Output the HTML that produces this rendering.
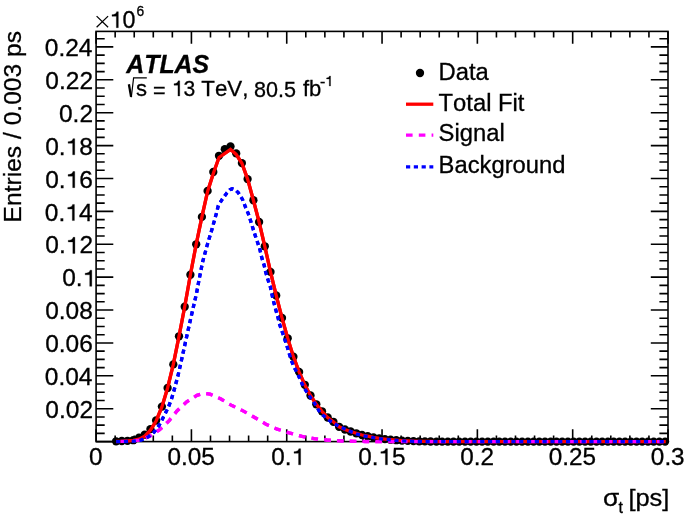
<!DOCTYPE html>
<html><head><meta charset="utf-8"><style>
html,body{margin:0;padding:0;background:#fff;width:685px;height:516px;overflow:hidden}
svg{display:block}
text{font-family:"Liberation Sans",sans-serif;fill:#000;font-kerning:none;stroke:#000;stroke-width:0.3px}
.g1{stroke:#000;stroke-width:0.3px;vector-effect:non-scaling-stroke}
svg{will-change:transform}
</style></head><body>
<svg width="685" height="516" viewBox="0 0 685 516">
<rect x="0" y="0" width="685" height="516" fill="#fff"/>
<path d="M96.10 441.60V429.30M96.10 31.40V43.70M115.16 441.60V435.40M115.16 31.40V37.60M134.23 441.60V435.40M134.23 31.40V37.60M153.29 441.60V435.40M153.29 31.40V37.60M172.35 441.60V435.40M172.35 31.40V37.60M191.42 441.60V429.30M191.42 31.40V43.70M210.48 441.60V435.40M210.48 31.40V37.60M229.54 441.60V435.40M229.54 31.40V37.60M248.61 441.60V435.40M248.61 31.40V37.60M267.67 441.60V435.40M267.67 31.40V37.60M286.73 441.60V429.30M286.73 31.40V43.70M305.80 441.60V435.40M305.80 31.40V37.60M324.86 441.60V435.40M324.86 31.40V37.60M343.92 441.60V435.40M343.92 31.40V37.60M362.99 441.60V435.40M362.99 31.40V37.60M382.05 441.60V429.30M382.05 31.40V43.70M401.11 441.60V435.40M401.11 31.40V37.60M420.18 441.60V435.40M420.18 31.40V37.60M439.24 441.60V435.40M439.24 31.40V37.60M458.30 441.60V435.40M458.30 31.40V37.60M477.37 441.60V429.30M477.37 31.40V43.70M496.43 441.60V435.40M496.43 31.40V37.60M515.49 441.60V435.40M515.49 31.40V37.60M534.56 441.60V435.40M534.56 31.40V37.60M553.62 441.60V435.40M553.62 31.40V37.60M572.68 441.60V429.30M572.68 31.40V43.70M591.75 441.60V435.40M591.75 31.40V37.60M610.81 441.60V435.40M610.81 31.40V37.60M629.87 441.60V435.40M629.87 31.40V37.60M648.94 441.60V435.40M648.94 31.40V37.60M668.00 441.60V429.30M668.00 31.40V43.70M96.10 441.60H113.30M668.00 441.60H650.80M96.10 433.38H104.70M668.00 433.38H659.40M96.10 425.16H104.70M668.00 425.16H659.40M96.10 416.93H104.70M668.00 416.93H659.40M96.10 408.71H113.30M668.00 408.71H650.80M96.10 400.49H104.70M668.00 400.49H659.40M96.10 392.27H104.70M668.00 392.27H659.40M96.10 384.04H104.70M668.00 384.04H659.40M96.10 375.82H113.30M668.00 375.82H650.80M96.10 367.60H104.70M668.00 367.60H659.40M96.10 359.38H104.70M668.00 359.38H659.40M96.10 351.15H104.70M668.00 351.15H659.40M96.10 342.93H113.30M668.00 342.93H650.80M96.10 334.71H104.70M668.00 334.71H659.40M96.10 326.49H104.70M668.00 326.49H659.40M96.10 318.26H104.70M668.00 318.26H659.40M96.10 310.04H113.30M668.00 310.04H650.80M96.10 301.82H104.70M668.00 301.82H659.40M96.10 293.60H104.70M668.00 293.60H659.40M96.10 285.37H104.70M668.00 285.37H659.40M96.10 277.15H113.30M668.00 277.15H650.80M96.10 268.93H104.70M668.00 268.93H659.40M96.10 260.71H104.70M668.00 260.71H659.40M96.10 252.48H104.70M668.00 252.48H659.40M96.10 244.26H113.30M668.00 244.26H650.80M96.10 236.04H104.70M668.00 236.04H659.40M96.10 227.81H104.70M668.00 227.81H659.40M96.10 219.59H104.70M668.00 219.59H659.40M96.10 211.37H113.30M668.00 211.37H650.80M96.10 203.15H104.70M668.00 203.15H659.40M96.10 194.93H104.70M668.00 194.93H659.40M96.10 186.70H104.70M668.00 186.70H659.40M96.10 178.48H113.30M668.00 178.48H650.80M96.10 170.26H104.70M668.00 170.26H659.40M96.10 162.04H104.70M668.00 162.04H659.40M96.10 153.81H104.70M668.00 153.81H659.40M96.10 145.59H113.30M668.00 145.59H650.80M96.10 137.37H104.70M668.00 137.37H659.40M96.10 129.15H104.70M668.00 129.15H659.40M96.10 120.92H104.70M668.00 120.92H659.40M96.10 112.70H113.30M668.00 112.70H650.80M96.10 104.48H104.70M668.00 104.48H659.40M96.10 96.25H104.70M668.00 96.25H659.40M96.10 88.03H104.70M668.00 88.03H659.40M96.10 79.81H113.30M668.00 79.81H650.80M96.10 71.59H104.70M668.00 71.59H659.40M96.10 63.37H104.70M668.00 63.37H659.40M96.10 55.14H104.70M668.00 55.14H659.40M96.10 46.92H113.30M668.00 46.92H650.80M96.10 38.70H104.70M668.00 38.70H659.40" stroke="#000" stroke-width="1.60" fill="none"/>
<rect x="96.10" y="31.40" width="571.90" height="410.20" fill="none" stroke="#000" stroke-width="1.60"/>
<polyline points="116.1,441.5 121.8,441.3 127.5,441.0 133.3,440.4 139.0,439.1 144.7,436.2 150.4,430.2 156.1,421.0 161.9,407.0 167.6,388.0 173.3,364.4 179.0,336.3 184.7,306.7 190.4,274.7 196.2,244.3 201.9,216.9 207.6,191.5 213.3,173.5 219.0,157.5 230.5,149.3 236.2,154.4 241.9,163.3 247.6,179.1 253.4,200.2 259.1,222.0 264.8,246.3 270.5,271.9 276.2,295.5 282.0,317.9 287.7,338.3 293.4,356.7 299.1,371.9 304.8,384.8 310.5,395.5 316.3,404.3 322.0,411.3 327.7,417.5 333.4,421.8 339.1,426.8 344.9,429.5 350.6,431.5 356.3,433.3 362.0,435.0 367.7,436.2 373.5,437.4 379.2,438.4 384.9,439.1 390.6,439.7 396.3,440.2 402.0,440.6 407.8,440.9 413.5,441.1 419.2,441.3 424.9,441.4 430.6,441.5 436.4,441.6 442.1,441.6 447.8,441.6 453.5,441.6 459.2,441.6 465.0,441.6 470.7,441.6 476.4,441.6 482.1,441.6 487.8,441.6 493.6,441.6 499.3,441.6 505.0,441.6 510.7,441.6 516.4,441.6 522.1,441.6 527.9,441.6 533.6,441.6 539.3,441.6 545.0,441.6 550.7,441.6 556.5,441.6 562.2,441.6 567.9,441.6 573.6,441.6 579.3,441.6 585.1,441.6 590.8,441.6 596.5,441.6 602.2,441.6 607.9,441.6 613.7,441.6 619.4,441.6 625.1,441.6 630.8,441.6 636.5,441.6 642.2,441.6 648.0,441.6 653.7,441.6 659.4,441.6 665.8,441.6" fill="none" stroke="#ff0000" stroke-width="3.3" stroke-linejoin="miter"/>
<polyline points="116.1,441.5 130.0,441.3 139.8,440.1 145.0,438.2 150.5,435.7 155.0,432.6 159.7,429.7 164.5,425.2 169.4,420.3 177.2,410.7 186.7,401.9 196.9,395.3 204.2,393.4 210.1,394.2 221.0,399.0 229.0,404.0 232.0,405.6 243.5,411.1 254.7,417.5 266.0,424.2 277.2,429.2 289.2,432.9 302.1,436.4 314.1,438.7 327.0,440.0 345.0,441.1 365.0,441.5 400.0,441.7 665.8,441.7" fill="none" stroke="#ff00ff" stroke-width="3.3" stroke-dasharray="6.6 6.2" stroke-dashoffset="-4.5"/>
<polyline points="116.1,441.6 125.3,441.6 133.4,441.2 140.8,440.1 148.6,436.7 153.9,432.3 158.7,426.0 162.1,419.7 165.5,413.0 168.5,406.8 171.4,399.3 173.6,392.0 177.9,376.0 182.6,355.1 187.2,334.2 191.9,313.3 196.5,293.5 199.1,279.5 202.6,262.0 207.2,245.1 211.9,229.5 216.5,213.0 218.3,205.6 222.3,199.2 227.0,192.8 230.0,189.6 232.2,188.7 235.0,189.6 238.4,192.8 242.4,199.2 245.3,206.7 248.3,213.7 250.6,220.7 252.9,228.3 255.2,235.4 257.6,242.6 259.9,249.5 261.6,257.1 264.0,264.7 265.7,272.2 268.0,279.8 270.3,286.7 271.9,294.1 273.6,301.6 275.4,308.6 277.7,316.2 279.4,323.7 281.8,330.7 284.3,338.0 286.7,345.2 289.0,352.8 291.3,360.3 294.2,367.3 297.7,373.7 300.6,380.7 304.1,387.7 308.3,394.5 313.7,402.0 316.6,406.8 320.5,413.1 326.8,418.4 332.6,422.8 338.9,426.2 346.2,429.6 353.0,432.5 356.3,433.9 362.0,435.5 367.7,436.6 373.5,437.7 379.2,438.6 384.9,439.3 390.6,439.9 396.3,440.4 402.1,440.8 407.8,441.1 413.5,441.3 419.2,441.5 424.9,441.6 440.0,441.7 665.8,441.7" fill="none" stroke="#0000ff" stroke-width="3.3" stroke-dasharray="4.2 3.6"/>
<g fill="#000"><circle cx="116.1" cy="441.3" r="4.15"/><circle cx="121.8" cy="441.0" r="4.15"/><circle cx="127.5" cy="440.8" r="4.15"/><circle cx="133.3" cy="440.2" r="4.15"/><circle cx="139.0" cy="437.6" r="4.15"/><circle cx="144.7" cy="434.7" r="4.15"/><circle cx="150.4" cy="429.1" r="4.15"/><circle cx="156.1" cy="420.5" r="4.15"/><circle cx="161.9" cy="406.6" r="4.15"/><circle cx="167.6" cy="388.0" r="4.15"/><circle cx="173.3" cy="364.4" r="4.15"/><circle cx="179.0" cy="336.3" r="4.15"/><circle cx="184.7" cy="306.7" r="4.15"/><circle cx="190.4" cy="274.7" r="4.15"/><circle cx="196.2" cy="244.3" r="4.15"/><circle cx="201.9" cy="216.9" r="4.15"/><circle cx="207.6" cy="190.9" r="4.15"/><circle cx="213.3" cy="172.0" r="4.15"/><circle cx="219.0" cy="155.8" r="4.15"/><circle cx="224.8" cy="149.2" r="4.15"/><circle cx="230.5" cy="146.5" r="4.15"/><circle cx="236.2" cy="153.4" r="4.15"/><circle cx="241.9" cy="163.1" r="4.15"/><circle cx="247.6" cy="179.1" r="4.15"/><circle cx="253.4" cy="200.2" r="4.15"/><circle cx="259.1" cy="222.0" r="4.15"/><circle cx="264.8" cy="246.3" r="4.15"/><circle cx="270.5" cy="271.9" r="4.15"/><circle cx="276.2" cy="295.5" r="4.15"/><circle cx="282.0" cy="317.9" r="4.15"/><circle cx="287.7" cy="338.3" r="4.15"/><circle cx="293.4" cy="356.7" r="4.15"/><circle cx="299.1" cy="371.9" r="4.15"/><circle cx="304.8" cy="384.8" r="4.15"/><circle cx="310.5" cy="395.5" r="4.15"/><circle cx="316.3" cy="404.3" r="4.15"/><circle cx="322.0" cy="411.3" r="4.15"/><circle cx="327.7" cy="417.5" r="4.15"/><circle cx="333.4" cy="421.8" r="4.15"/><circle cx="339.1" cy="426.8" r="4.15"/><circle cx="344.9" cy="429.5" r="4.15"/><circle cx="350.6" cy="431.5" r="4.15"/><circle cx="356.3" cy="433.3" r="4.15"/><circle cx="362.0" cy="435.0" r="4.15"/><circle cx="367.7" cy="436.2" r="4.15"/><circle cx="373.5" cy="437.4" r="4.15"/><circle cx="379.2" cy="438.4" r="4.15"/><circle cx="384.9" cy="439.1" r="4.15"/><circle cx="390.6" cy="439.7" r="4.15"/><circle cx="396.3" cy="440.2" r="4.15"/><circle cx="402.0" cy="440.6" r="4.15"/><circle cx="407.8" cy="440.9" r="4.15"/><circle cx="413.5" cy="441.1" r="4.15"/><circle cx="419.2" cy="441.3" r="4.15"/><circle cx="424.9" cy="441.4" r="4.15"/><circle cx="430.6" cy="441.5" r="4.15"/><circle cx="436.4" cy="441.6" r="4.15"/><circle cx="442.1" cy="441.6" r="4.15"/><circle cx="447.8" cy="441.6" r="4.15"/><circle cx="453.5" cy="441.6" r="4.15"/><circle cx="459.2" cy="441.6" r="4.15"/><circle cx="465.0" cy="441.6" r="4.15"/><circle cx="470.7" cy="441.6" r="4.15"/><circle cx="476.4" cy="441.6" r="4.15"/><circle cx="482.1" cy="441.6" r="4.15"/><circle cx="487.8" cy="441.6" r="4.15"/><circle cx="493.6" cy="441.6" r="4.15"/><circle cx="499.3" cy="441.6" r="4.15"/><circle cx="505.0" cy="441.6" r="4.15"/><circle cx="510.7" cy="441.6" r="4.15"/><circle cx="516.4" cy="441.6" r="4.15"/><circle cx="522.1" cy="441.6" r="4.15"/><circle cx="527.9" cy="441.6" r="4.15"/><circle cx="533.6" cy="441.6" r="4.15"/><circle cx="539.3" cy="441.6" r="4.15"/><circle cx="545.0" cy="441.6" r="4.15"/><circle cx="550.7" cy="441.6" r="4.15"/><circle cx="556.5" cy="441.6" r="4.15"/><circle cx="562.2" cy="441.6" r="4.15"/><circle cx="567.9" cy="441.6" r="4.15"/><circle cx="573.6" cy="441.6" r="4.15"/><circle cx="579.3" cy="441.6" r="4.15"/><circle cx="585.1" cy="441.6" r="4.15"/><circle cx="590.8" cy="441.6" r="4.15"/><circle cx="596.5" cy="441.6" r="4.15"/><circle cx="602.2" cy="441.6" r="4.15"/><circle cx="607.9" cy="441.6" r="4.15"/><circle cx="613.7" cy="441.6" r="4.15"/><circle cx="619.4" cy="441.6" r="4.15"/><circle cx="625.1" cy="441.6" r="4.15"/><circle cx="630.8" cy="441.6" r="4.15"/><circle cx="636.5" cy="441.6" r="4.15"/><circle cx="642.2" cy="441.6" r="4.15"/><circle cx="648.0" cy="441.6" r="4.15"/><circle cx="653.7" cy="441.6" r="4.15"/><circle cx="659.4" cy="441.6" r="4.15"/><circle cx="665.1" cy="441.6" r="4.15"/></g>
<polyline points="116.1,441.5 121.8,441.3 127.5,441.0 133.3,440.4 139.0,439.1 144.7,436.2 150.4,430.2 156.1,421.0 161.9,407.0 167.6,388.0 173.3,364.4 179.0,336.3 184.7,306.7 190.4,274.7 196.2,244.3 201.9,216.9 207.6,191.5 213.3,173.5 219.0,157.5 230.5,149.3 236.2,154.4 241.9,163.3 247.6,179.1 253.4,200.2 259.1,222.0 264.8,246.3 270.5,271.9 276.2,295.5 282.0,317.9 287.7,338.3 293.4,356.7 299.1,371.9 304.8,384.8 310.5,395.5 316.3,404.3 322.0,411.3 327.7,417.5 333.4,421.8 339.1,426.8 344.9,429.5 350.6,431.5 356.3,433.3 362.0,435.0 367.7,436.2 373.5,437.4 379.2,438.4 384.9,439.1 390.6,439.7 396.3,440.2 402.0,440.6 407.8,440.9 413.5,441.1 419.2,441.3 424.9,441.4 430.6,441.5 436.4,441.6 442.1,441.6 447.8,441.6 453.5,441.6 459.2,441.6 465.0,441.6 470.7,441.6 476.4,441.6 482.1,441.6 487.8,441.6 493.6,441.6 499.3,441.6 505.0,441.6 510.7,441.6 516.4,441.6 522.1,441.6 527.9,441.6 533.6,441.6 539.3,441.6 545.0,441.6 550.7,441.6 556.5,441.6 562.2,441.6 567.9,441.6 573.6,441.6 579.3,441.6 585.1,441.6 590.8,441.6 596.5,441.6 602.2,441.6 607.9,441.6 613.7,441.6 619.4,441.6 625.1,441.6 630.8,441.6 636.5,441.6 642.2,441.6 648.0,441.6 653.7,441.6 659.4,441.6 665.8,441.6" fill="none" stroke="#ff0000" stroke-width="3.3"/>
<polyline points="116.1,441.5 130.0,441.3 139.8,440.1 145.0,438.2 150.5,435.7 155.0,432.6 159.7,429.7 164.5,425.2 169.4,420.3 177.2,410.7 186.7,401.9 196.9,395.3 204.2,393.4 210.1,394.2 221.0,399.0 229.0,404.0 232.0,405.6 243.5,411.1 254.7,417.5 266.0,424.2 277.2,429.2 289.2,432.9 302.1,436.4 314.1,438.7 327.0,440.0 345.0,441.1 365.0,441.5 400.0,441.7 665.8,441.7" fill="none" stroke="#ff00ff" stroke-width="3.3" stroke-dasharray="6.6 6.2" stroke-dashoffset="-4.5"/>
<polyline points="116.1,441.6 125.3,441.6 133.4,441.2 140.8,440.1 148.6,436.7 153.9,432.3 158.7,426.0 162.1,419.7 165.5,413.0 168.5,406.8 171.4,399.3 173.6,392.0 177.9,376.0 182.6,355.1 187.2,334.2 191.9,313.3 196.5,293.5 199.1,279.5 202.6,262.0 207.2,245.1 211.9,229.5 216.5,213.0 218.3,205.6 222.3,199.2 227.0,192.8 230.0,189.6 232.2,188.7 235.0,189.6 238.4,192.8 242.4,199.2 245.3,206.7 248.3,213.7 250.6,220.7 252.9,228.3 255.2,235.4 257.6,242.6 259.9,249.5 261.6,257.1 264.0,264.7 265.7,272.2 268.0,279.8 270.3,286.7 271.9,294.1 273.6,301.6 275.4,308.6 277.7,316.2 279.4,323.7 281.8,330.7 284.3,338.0 286.7,345.2 289.0,352.8 291.3,360.3 294.2,367.3 297.7,373.7 300.6,380.7 304.1,387.7 308.3,394.5 313.7,402.0 316.6,406.8 320.5,413.1 326.8,418.4 332.6,422.8 338.9,426.2 346.2,429.6 353.0,432.5 356.3,433.9 362.0,435.5 367.7,436.6 373.5,437.7 379.2,438.6 384.9,439.3 390.6,439.9 396.3,440.4 402.1,440.8 407.8,441.1 413.5,441.3 419.2,441.5 424.9,441.6 440.0,441.7 665.8,441.7" fill="none" stroke="#0000ff" stroke-width="3.3" stroke-dasharray="4.2 3.6"/>
<text transform="translate(45.33,417.91) scale(1.043,1)" font-size="23.50">0.02</text>
<text transform="translate(44.81,385.02) scale(1.043,1)" font-size="23.50">0.04</text>
<text transform="translate(45.17,352.13) scale(1.043,1)" font-size="23.50">0.06</text>
<text transform="translate(45.16,319.24) scale(1.043,1)" font-size="23.50">0.08</text>
<text transform="translate(62.22,286.35) scale(1.043,1)" font-size="23.50">0.</text><path class="g1" transform="translate(82.66,286.35) scale(0.01197,-0.01147)" d="M764 0L764 1409L614 1409C582 1290 538 1240 466 1205C394 1170 310 1152 207 1147L207 1005L590 1005L590 0Z"/>
<text transform="translate(45.33,253.46) scale(1.043,1)" font-size="23.50">0.</text><path class="g1" transform="translate(65.77,253.46) scale(0.01197,-0.01147)" d="M764 0L764 1409L614 1409C582 1290 538 1240 466 1205C394 1170 310 1152 207 1147L207 1005L590 1005L590 0Z"/><text transform="translate(79.40,253.46) scale(1.043,1)" font-size="23.50">2</text>
<text transform="translate(44.81,220.57) scale(1.043,1)" font-size="23.50">0.</text><path class="g1" transform="translate(65.25,220.57) scale(0.01197,-0.01147)" d="M764 0L764 1409L614 1409C582 1290 538 1240 466 1205C394 1170 310 1152 207 1147L207 1005L590 1005L590 0Z"/><text transform="translate(78.89,220.57) scale(1.043,1)" font-size="23.50">4</text>
<text transform="translate(45.17,187.68) scale(1.043,1)" font-size="23.50">0.</text><path class="g1" transform="translate(65.61,187.68) scale(0.01197,-0.01147)" d="M764 0L764 1409L614 1409C582 1290 538 1240 466 1205C394 1170 310 1152 207 1147L207 1005L590 1005L590 0Z"/><text transform="translate(79.25,187.68) scale(1.043,1)" font-size="23.50">6</text>
<text transform="translate(45.16,154.79) scale(1.043,1)" font-size="23.50">0.</text><path class="g1" transform="translate(65.60,154.79) scale(0.01197,-0.01147)" d="M764 0L764 1409L614 1409C582 1290 538 1240 466 1205C394 1170 310 1152 207 1147L207 1005L590 1005L590 0Z"/><text transform="translate(79.23,154.79) scale(1.043,1)" font-size="23.50">8</text>
<text transform="translate(58.96,121.90) scale(1.043,1)" font-size="23.50">0.2</text>
<text transform="translate(45.33,89.01) scale(1.043,1)" font-size="23.50">0.22</text>
<text transform="translate(44.81,56.12) scale(1.043,1)" font-size="23.50">0.24</text>
<text transform="translate(89.04,464.80) scale(1.034,1)" font-size="23.50">0</text>
<text transform="translate(167.51,464.80) scale(1.034,1)" font-size="23.50">0.05</text>
<text transform="translate(271.29,464.80) scale(1.034,1)" font-size="23.50">0.</text><path class="g1" transform="translate(291.56,464.80) scale(0.01186,-0.01147)" d="M764 0L764 1409L614 1409C582 1290 538 1240 466 1205C394 1170 310 1152 207 1147L207 1005L590 1005L590 0Z"/>
<text transform="translate(358.14,464.80) scale(1.034,1)" font-size="23.50">0.</text><path class="g1" transform="translate(378.40,464.80) scale(0.01186,-0.01147)" d="M764 0L764 1409L614 1409C582 1290 538 1240 466 1205C394 1170 310 1152 207 1147L207 1005L590 1005L590 0Z"/><text transform="translate(391.92,464.80) scale(1.034,1)" font-size="23.50">5</text>
<text transform="translate(460.31,464.80) scale(1.034,1)" font-size="23.50">0.2</text>
<text transform="translate(548.77,464.80) scale(1.034,1)" font-size="23.50">0.25</text>
<text transform="translate(650.87,464.80) scale(1.034,1)" font-size="23.50">0.3</text>
<path d="M96.6 16.1L108.1 27.3M108.1 16.1L96.6 27.3" stroke="#000" stroke-width="1.25" fill="none"/>
<path class="g1" transform="translate(109.64,27.70) scale(0.01138,-0.01138)" d="M764 0L764 1409L614 1409C582 1290 538 1240 466 1205C394 1170 310 1152 207 1147L207 1005L590 1005L590 0Z"/><text transform="translate(122.60,27.70) scale(1.000,1)" font-size="23.30">0</text>
<text transform="translate(136.60,15.80) scale(1.000,1)" font-size="13.80" text-anchor="start">6</text>
<text transform="translate(21.20,31.00) rotate(-90)" font-size="24.60" text-anchor="end">Entries / 0.003 ps</text>
<text transform="translate(602.89,505.60) scale(1.120,1)" font-size="23.50">σ</text>
<text transform="translate(618.40,512.60) scale(1.000,1)" font-size="16.00" text-anchor="start">t</text>
<text transform="translate(628.41,505.60) scale(1.060,1)" font-size="24.00">[ps]</text>
<text transform="translate(126.30,72.60) scale(0.995,1)" font-size="25.00" text-anchor="start" font-weight="bold" font-style="italic">ATLAS</text>
<path d="M128.9 84.3L131.1 96.9" stroke="#000" stroke-width="2.3" fill="none"/><path d="M131.3 97.2L133.6 77.9H146.8" stroke="#000" stroke-width="1.2" fill="none"/>
<text transform="translate(135.90,95.50) scale(1.000,1)" font-size="22.00" text-anchor="start">s</text>
<text transform="translate(152.90,98.00) scale(1.000,1)" font-size="21.50" text-anchor="start">=</text>
<path class="g1" transform="translate(171.87,96.00) scale(0.01031,-0.01074)" d="M764 0L764 1409L614 1409C582 1290 538 1240 466 1205C394 1170 310 1152 207 1147L207 1005L590 1005L590 0Z"/><text transform="translate(183.61,96.00) scale(0.960,1)" font-size="22.00">3</text>
<text transform="translate(201.30,96.00) scale(1.000,1)" font-size="22.30" text-anchor="start">TeV,</text>
<text transform="translate(254.10,96.60) scale(0.980,1)" font-size="22.00" text-anchor="start">80.5</text>
<text transform="translate(302.90,96.00) scale(1.000,1)" font-size="22.00" text-anchor="start">fb</text>
<text transform="translate(320.09,86.90) scale(1.100,1)" font-size="14.50">-</text>
<path class="g1" transform="translate(325.13,86.00) scale(0.00708,-0.00708)" d="M764 0L764 1409L614 1409C582 1290 538 1240 466 1205C394 1170 310 1152 207 1147L207 1005L590 1005L590 0Z"/>
<circle cx="420" cy="73" r="4.15" fill="#000"/>
<line x1="406" y1="104.2" x2="433.3" y2="104.2" stroke="#ff0000" stroke-width="3.3"/>
<line x1="406" y1="135.2" x2="433.3" y2="135.2" stroke="#ff00ff" stroke-width="3.3" stroke-dasharray="6.6 6.2"/>
<line x1="406" y1="166.9" x2="433.3" y2="166.9" stroke="#0000ff" stroke-width="3.3" stroke-dasharray="4.2 3.6"/>
<text transform="translate(438.60,79.80) scale(1.034,1)" font-size="23.00" text-anchor="start">Data</text>
<text transform="translate(438.60,110.50) scale(1.034,1)" font-size="23.00" text-anchor="start">Total Fit</text>
<text transform="translate(438.60,141.10) scale(1.034,1)" font-size="23.00" text-anchor="start">Signal</text>
<text transform="translate(438.60,172.80) scale(1.034,1)" font-size="23.00" text-anchor="start">Background</text>
</svg>
</body></html>
